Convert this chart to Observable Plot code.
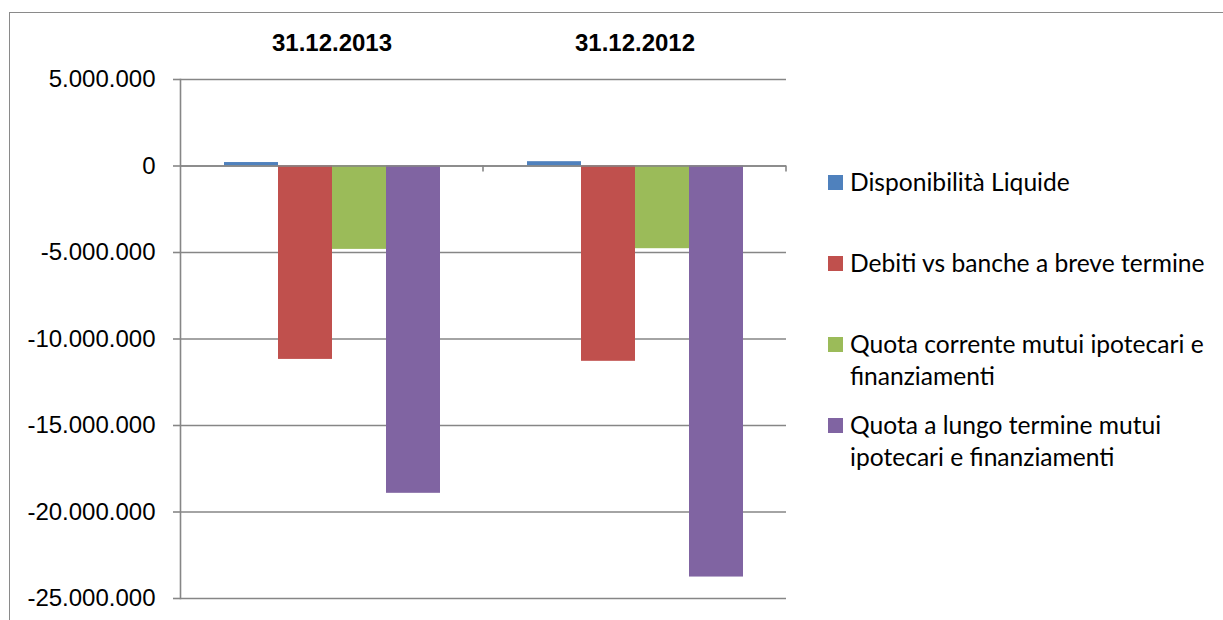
<!DOCTYPE html>
<html>
<head>
<meta charset="utf-8">
<script src="https://cdn.jsdelivr.net/npm/d3@7"></script>
<script src="https://cdn.jsdelivr.net/npm/@observablehq/plot@0.6"></script>
<style>
  body { margin: 0; background: #fff; }
  #wrap { position: relative; width: 1223px; height: 620px; overflow: hidden; background: #fff; }
  #border { position: absolute; left: 9px; top: 12px; width: 1400px; height: 800px; border: 1.5px solid #8a8a8a; box-sizing: border-box; }
  #chart { position: absolute; left: 0; top: 0; }
  #legend { position: absolute; left: 828px; top: 166px; font-family: Lato, "Open Sans", sans-serif; font-size: 24.6px; color: #000; }
  .item { display: flex; align-items: flex-start; height: 81px; }
  .sw { width: 15px; height: 15px; margin-top: 9px; margin-right: 7px; flex: none; }
  .lab { line-height: 32px; width: 375px; }
</style>
</head>
<body>
<div id="wrap">
  <div id="border"></div>
  <div id="chart"></div>
  <div id="legend"></div>
</div>
<script>
const dates = ["31.12.2013", "31.12.2012"];
const series = [
  "Disponibilità Liquide",
  "Debiti vs banche a breve termine",
  "Quota corrente mutui ipotecari e finanziamenti",
  "Quota a lungo termine mutui ipotecari e finanziamenti"
];
const values2013 = [200000, -11180000, -4820000, -18920000];
const values2012 = [250000, -11290000, -4780000, -23760000];
const colors = ["#4F81BD", "#C0504D", "#9BBB59", "#8064A2"];
const yTicks = [5000000, 0, -5000000, -10000000, -15000000, -20000000, -25000000];

const valuesByDate = [values2013, values2012];
const data = dates.flatMap((d, di) =>
  series.map((s, si) => ({date: d, series: s, value: valuesByDate[di][si]}))
);

const fmt = d3.formatLocale({decimal: ",", thousands: ".", grouping: [3], currency: ["€", ""], minus: "-"}).format(",d");
const grey = "#868686";

const chart = Plot.plot({
  width: 800,
  height: 620,
  marginLeft: 180,
  marginRight: 14,
  marginTop: 79,
  marginBottom: 22,
  style: {fontFamily: "'Liberation Sans', Arial, sans-serif", fontSize: "24px", color: "#000", background: "transparent"},
  fx: {domain: dates, padding: 0, label: null},
  x: {domain: series, paddingInner: 0, paddingOuter: 0.755, axis: null},
  y: {domain: [-25000000, 5000000], label: null},
  color: {domain: series, range: colors},
  marks: [
    Plot.ruleY(yTicks, {stroke: grey, strokeWidth: 1.6, strokeOpacity: 1}),
    Plot.barY(data, {fx: "date", x: "series", y: "value", fill: "series"}),
    Plot.ruleY([0], {stroke: grey, strokeWidth: 1.6}),
    Plot.frame({anchor: "left", facetAnchor: "left", stroke: grey, strokeWidth: 1.6}),
    Plot.frame({
      anchor: "right", stroke: grey, strokeWidth: 1.6,
      render: (index, scales, values, dimensions) => {
        const x = dimensions.width - dimensions.marginRight;
        const y0 = scales.y(0);
        const g = d3.create("svg:g");
        g.append("line").attr("x1", x).attr("x2", x).attr("y1", y0).attr("y2", y0 + 6)
          .attr("stroke", grey).attr("stroke-width", 1.6);
        return g.node();
      }
    }),
    Plot.axisY({ticks: yTicks, tickFormat: fmt, tickSize: 7, tickPadding: 18, stroke: grey, strokeWidth: 1.6, fill: "#000", fontSize: 24}),
    Plot.axisFx({anchor: "top", tickSize: 0, tickPadding: 29, label: null, fontWeight: "bold", fontSize: 24, fill: "#000"})
  ]
});
document.getElementById("chart").appendChild(chart);

const legend = d3.select("#legend");
series.forEach((s, i) => {
  const it = legend.append("div").attr("class", "item");
  it.append("div").attr("class", "sw").style("background", colors[i]);
  it.append("div").attr("class", "lab").text(s);
});
</script>
</body>
</html>
